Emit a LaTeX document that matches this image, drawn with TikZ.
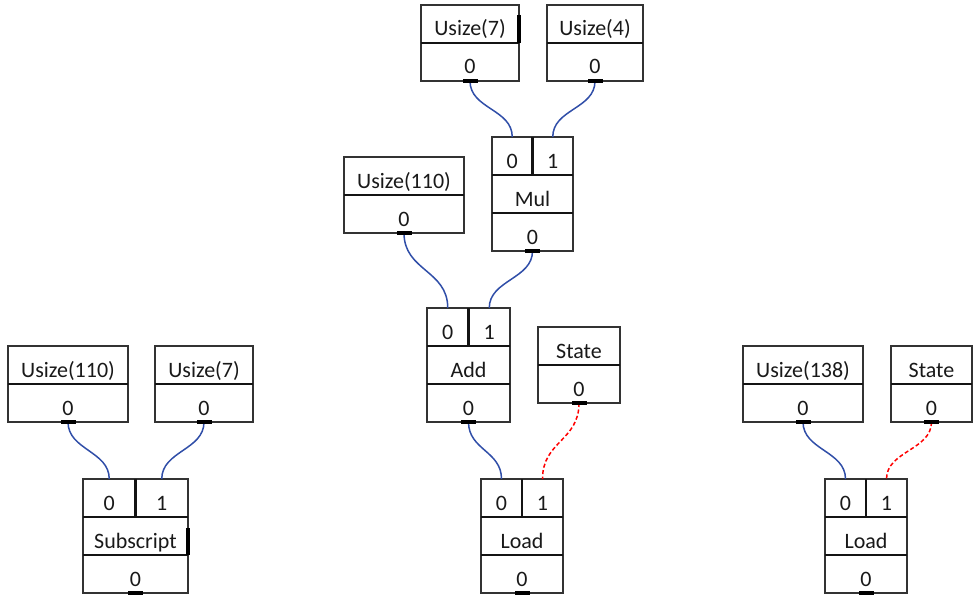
\documentclass[tikz,border=0pt]{standalone}
\usepackage{fontspec}
\setmainfont{Carlito}
\begin{document}
\begin{tikzpicture}[x=1pt,y=-1pt,
  cell/.style={draw=black!80, line width=1.9pt, rectangle, inner sep=0pt, outer sep=0pt,
    minimum height=38pt, text height=24pt, text depth=0pt,
    font=\fontsize{22}{24}\selectfont, text=black!90},
  divider/.style={draw=black!92, line width=2.3pt},
  portmark/.style={fill=black, rectangle, inner sep=0pt, outer sep=0pt,
    minimum width=15pt, minimum height=4pt},
  flow/.style={draw={rgb,255:red,48;green,78;blue,168}, line width=1.5pt},
  stateflow/.style={draw=red, line width=1.5pt, dash pattern=on 4pt off 2.5pt},
  overflow/.style={draw=black, line width=3.5pt}]
\useasboundingbox (0,0) rectangle (973,594);

% value box: name, x, y, width, header, value
\newcommand\valbox[6]{%
  \node[cell, minimum width=#4, anchor=north west] (#1h) at (#2,#3) {#5};
  \node[cell, minimum width=#4, anchor=north] (#1v) at (#1h.south) {#6};
  \draw[divider] (#1h.south west) -- (#1h.south east);
}
% operation box: name, x, y, width, label
\newcommand\opbox[5]{%
  \node[cell, minimum width=#4/2, anchor=north west] (#1a) at (#2,#3) {0};
  \node[cell, minimum width=#4/2, anchor=north west] (#1b) at (#1a.north east) {1};
  \node[cell, minimum width=#4, anchor=north west] (#1n) at (#1a.south west) {#5};
  \node[cell, minimum width=#4, anchor=north] (#1o) at (#1n.south) {0};
  \draw[divider] (#1a.north east) -- (#1a.south east);
  \draw[divider] (#1n.north west) -- (#1n.north east);
  \draw[divider] (#1n.south west) -- (#1n.south east);
}

% middle tree
\valbox{usevn}{421}{5}{98}{Usize(7)}{0}
\valbox{ufour}{547}{5}{96}{Usize(4)}{0}
\opbox{mul}{492}{137}{81}{Mul}
\valbox{uhund}{344}{157}{120}{Usize(110)}{0}
\opbox{add}{427}{308}{83}{Add}
\valbox{stm}{538}{327}{82}{State}{0}
\opbox{ldm}{481}{479}{82}{Load}

% left tree
\valbox{ula}{8}{346}{120}{Usize(110)}{0}
\valbox{ulb}{155}{346}{98}{Usize(7)}{0}
\opbox{sub}{83}{479}{105}{Subscript}

% right tree
\valbox{ura}{743}{346}{120}{Usize(138)}{0}
\valbox{str}{891}{346}{81}{State}{0}
\opbox{ldr}{825}{479}{82}{Load}

% clipped-text edge marks
\draw[overflow] ([yshift=-10pt]usevnh.north east) -- (usevnh.south east);
\draw[overflow] ([yshift=-11pt]subn.north east) -- (subn.south east);

% connectors
\draw[flow] (usevnv.south) .. controls +(0,28) and +(0,-28) .. (mula.north);
\draw[flow] (ufourv.south) .. controls +(0,28) and +(0,-28) .. (mulb.north);
\draw[flow] (uhundv.south) .. controls +(0,38) and +(0,-38) .. (adda.north);
\draw[flow] (mulo.south) .. controls +(0,28) and +(0,-28) .. (addb.north);
\draw[flow] (addo.south) .. controls +(0,28) and +(0,-28) .. (ldma.north);
\draw[stateflow] (stmv.south) .. controls +(0,38) and +(0,-38) .. (ldmb.north);
\draw[flow] (ulav.south) .. controls +(0,28) and +(0,-28) .. (suba.north);
\draw[flow] (ulbv.south) .. controls +(0,28) and +(0,-28) .. (subb.north);
\draw[flow] (urav.south) .. controls +(0,28) and +(0,-28) .. (ldra.north);
\draw[stateflow] (strv.south) .. controls +(0,28) and +(0,-28) .. (ldrb.north);

% output port marks
\foreach \p in {usevnv,ufourv,uhundv,stmv,ulav,ulbv,urav,strv,mulo,addo,ldmo,subo,ldro}
  \node[portmark] at (\p.south) {};
\end{tikzpicture}
\end{document}
